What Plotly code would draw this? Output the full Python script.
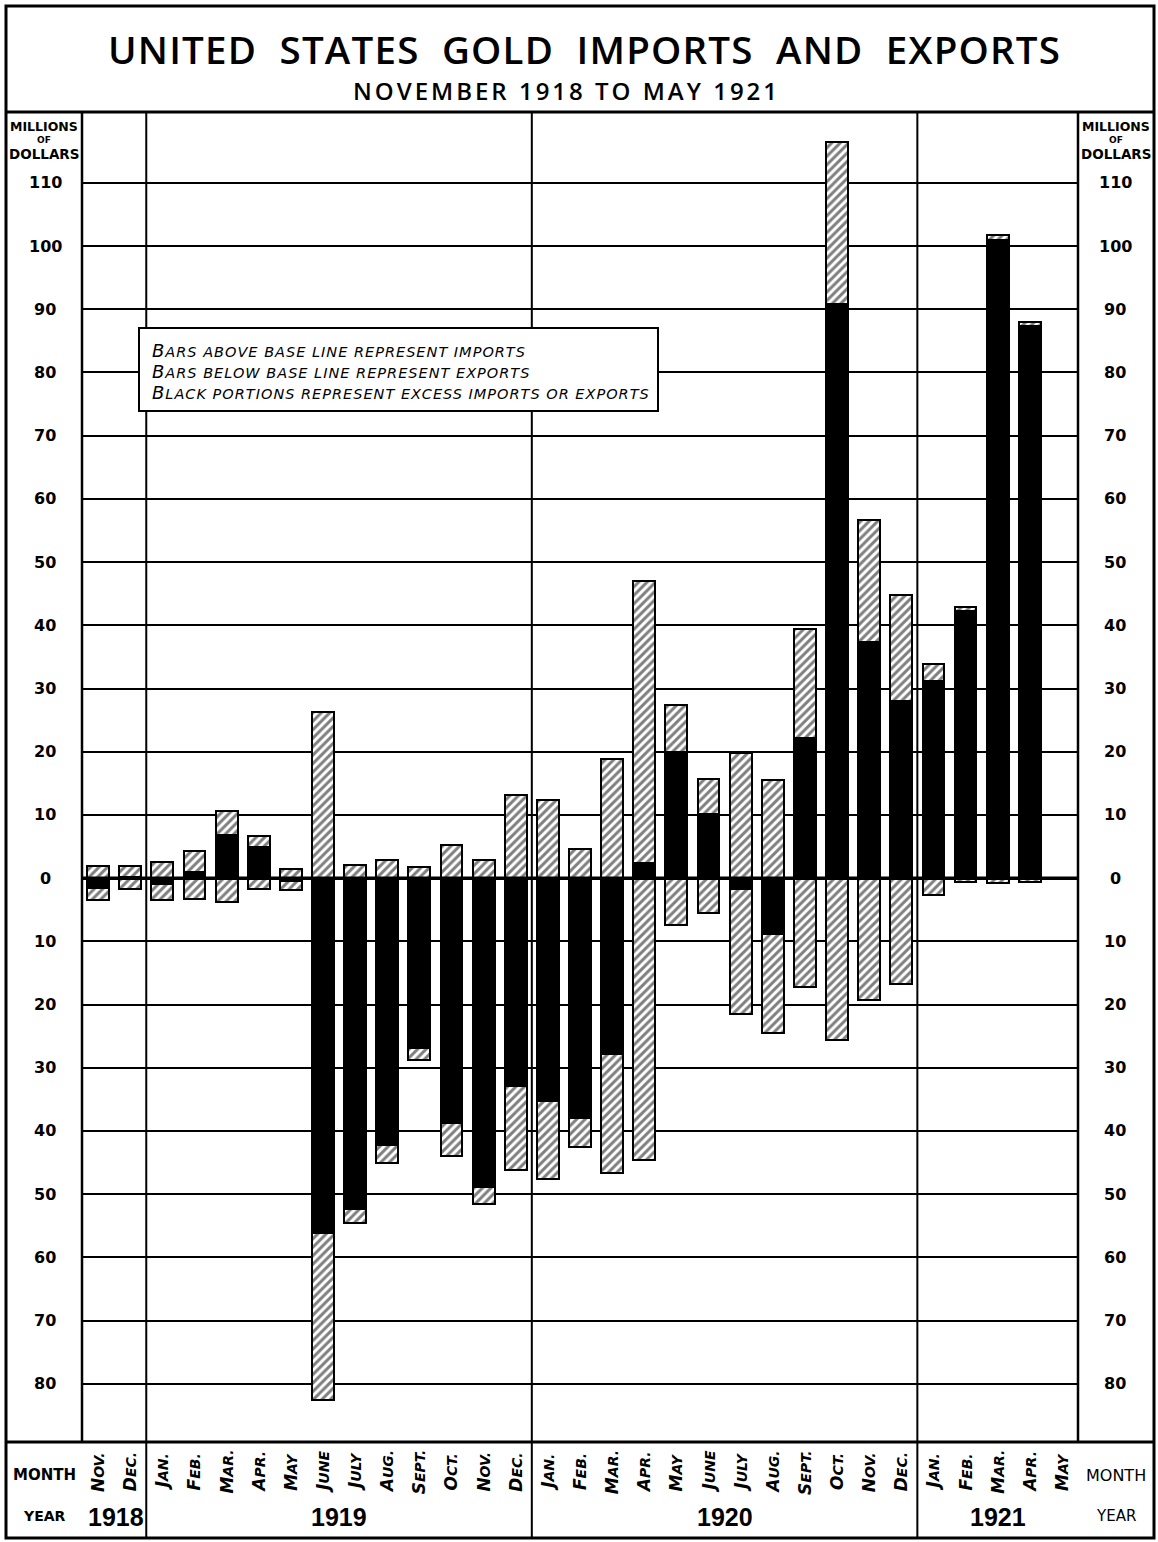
import plotly.graph_objects as go

# ---- data (millions of dollars) ----
months = ["NOV.", "DEC.",
          "JAN.", "FEB.", "MAR.", "APR.", "MAY", "JUNE", "JULY", "AUG.", "SEPT.", "OCT.", "NOV.", "DEC.",
          "JAN.", "FEB.", "MAR.", "APR.", "MAY", "JUNE", "JULY", "AUG.", "SEPT.", "OCT.", "NOV.", "DEC.",
          "JAN.", "FEB.", "MAR.", "APR.", "MAY"]
years = ["1918", "1919", "1920", "1921"]
year_counts = [2, 12, 12, 5]
imports = [2.0, 1.9,
           2.5, 4.3, 10.7, 6.6, 1.4, 26.3, 2.1, 2.8, 1.8, 5.2, 2.8, 13.2,
           12.3, 4.6, 18.8, 47.0, 27.4, 15.7, 19.8, 15.6, 39.4, 116.5, 56.6, 44.8,
           33.8, 42.9, 101.7, 88.0, 0.0]
exports = [3.5, 1.7,
           3.5, 3.3, 3.8, 1.7, 1.8, 82.5, 54.5, 45.0, 28.7, 44.0, 51.6, 46.1,
           47.6, 42.5, 46.6, 44.6, 7.4, 5.5, 21.5, 24.5, 17.2, 25.6, 19.3, 16.8,
           2.6, 0.6, 0.7, 0.6, 0.0]
left_ticks = [110, 100, 90, 80, 70, 60, 50, 40, 30, 20, 10, 0, -10, -20, -30, -40, -50, -60, -70, -80]

x = list(range(len(months)))
excess = [i - e for i, e in zip(imports, exports)]
neg_exports = [-e for e in exports]

FONT = "DejaVu Sans"

# figure geometry helpers (pixels -> paper)
L, R, T, B = 82, 1078, 112, 1442
W, H = 1158, 1542
def pxx(px):
    return (px - L) / (R - L)
def pxy(py):
    return (B - py) / (B - T)

hatch = dict(shape="/", fgcolor="black", bgcolor="white", size=6, solidity=0.5)
bw = 0.68

fig = go.Figure()
fig.add_trace(go.Bar(x=x, y=imports, width=bw, marker=dict(color="white", pattern=hatch,
                     line=dict(color="black", width=2)), showlegend=False, hoverinfo="skip"))
fig.add_trace(go.Bar(x=x, y=neg_exports, width=bw, marker=dict(color="white", pattern=hatch,
                     line=dict(color="black", width=2)), showlegend=False, hoverinfo="skip"))
fig.add_trace(go.Bar(x=x, y=excess, width=bw, marker=dict(color="black",
                     line=dict(color="black", width=2)), showlegend=False, hoverinfo="skip"))

shapes = []
def line(x0, y0, x1, y1, w=2.5, layer="below", xref="paper", yref="paper"):
    shapes.append(dict(type="line", x0=x0, y0=y0, x1=x1, y1=y1, xref=xref, yref=yref,
                       line=dict(color="black", width=w), layer=layer))

# outer frame
shapes.append(dict(type="rect", x0=pxx(6), x1=pxx(1154), y0=pxy(1538), y1=pxy(6), xref="paper", yref="paper",
                   line=dict(color="black", width=3), layer="below"))
# title bottom, plot bottom
line(pxx(6), pxy(T), pxx(1154), pxy(T), 3)
line(pxx(6), pxy(B), pxx(1154), pxy(B), 3)
# axis columns
line(0, 0, 0, 1, 2.5)
line(1, 0, 1, 1, 2.5)
# year separators
cum = 0
for c in year_counts[:-1]:
    cum += c
    line(cum - 0.5, pxy(1538), cum - 0.5, 1, 2, xref="x")
# base line
line(-0.95, 0, 30.9, 0, 3.5, layer="above", xref="x", yref="y")
# explanation box
shapes.append(dict(type="rect", x0=pxx(139), x1=pxx(658), y0=pxy(411), y1=pxy(328), xref="paper", yref="paper",
                   fillcolor="white", line=dict(color="black", width=2), layer="above"))

ann = []
def text(xv, yv, s, size, xref="paper", yref="paper", xanchor="center", angle=0, family=FONT,
         weight=None, align="center"):
    f = dict(family=family, size=size, color="black")
    if weight is not None:
        f["weight"] = weight
    ann.append(dict(x=xv, y=yv, xref=xref, yref=yref, text=s, showarrow=False, xanchor=xanchor,
                    yanchor="middle", textangle=angle, font=f, align=align))

def sc(s, big, small, bold=False, spacing=0):
    ls = f"letter-spacing:{spacing}px;" if spacing else ""
    inner = (f"<span style='font-size:{big}px;{ls}'>{s[0]}</span>"
             f"<span style='font-size:{small}px;{ls}'>{s[1:]}</span>")
    if bold:
        inner = "<b>" + inner + "</b>"
    return "<i>" + inner + "</i>"

# title + subtitle
title = "UNITED  STATES  GOLD  IMPORTS  AND  EXPORTS"
subtitle = "NOVEMBER 1918 TO MAY 1921"
text(pxx(584), pxy(49), f"<span style='letter-spacing:1.2px'>{title}</span>", 38.5,
     family="Open Sans", weight=600)
text(pxx(566), pxy(91), f"<span style='letter-spacing:3px'>{subtitle}</span>", 24,
     family="Open Sans", weight=600)

# axis headers
for cx in (44, 1116):
    text(pxx(cx), pxy(127), "<b>MILLIONS</b>", 12.5)
    text(pxx(cx), pxy(140), "<b>OF</b>", 9)
    text(pxx(cx), pxy(154), "<b>DOLLARS</b>", 13.5)

# tick labels (absolute values)
for v in left_ticks:
    lab = str(abs(v))
    text(pxx(45), v, "<b>" + lab + "</b>", 16, yref="y")
    text(pxx(1115), v, "<b>" + lab + "</b>", 16, yref="y")

# legend text
legend_lines = ["BARS ABOVE BASE LINE REPRESENT IMPORTS",
                "BARS BELOW BASE LINE REPRESENT EXPORTS",
                "BLACK PORTIONS REPRESENT EXCESS IMPORTS OR EXPORTS"]
for k, s in enumerate(legend_lines):
    text(pxx(150), pxy(350 + 21 * k), sc(s, 18, 14.5, spacing=1), 14.5, xanchor="left", align="left")

# month labels
for i, m in enumerate(months):
    text(i, pxy(1472), sc(m, 17, 14, bold=True), 14, xref="x", angle=-90)

# year labels
cum = 0
for yr, c in zip(years, year_counts):
    center = cum + (c - 1) / 2
    if yr == "1918":
        center = cum + 0.55
    text(center, pxy(1517), "<b>" + yr + "</b>", 25, xref="x", family="Liberation Sans")
    cum += c

text(pxx(44), pxy(1475), "<b>MONTH</b>", 15)
text(pxx(44), pxy(1516), "<b>YEAR</b>", 14)
text(pxx(1116), pxy(1475), "MONTH", 16)
text(pxx(1116), pxy(1516), "YEAR", 15)

fig.update_layout(
    width=W, height=H,
    margin=dict(l=L, r=W - R, t=T, b=H - B),
    paper_bgcolor="white", plot_bgcolor="white",
    barmode="overlay", bargap=0,
    shapes=shapes, annotations=ann,
    xaxis=dict(range=[-0.5, 30.5], showgrid=False, showticklabels=False, zeroline=False, fixedrange=True),
    yaxis=dict(range=[-89.2, 121.2], tickvals=left_ticks, showticklabels=False, showgrid=True,
               gridcolor="black", gridwidth=2, zeroline=False, fixedrange=True),
    font=dict(family=FONT, color="black"),
)

fig.write_html("out.html", config={"displayModeBar": False},
               post_script="document.body.style.margin='0';document.body.style.overflow='hidden';")
